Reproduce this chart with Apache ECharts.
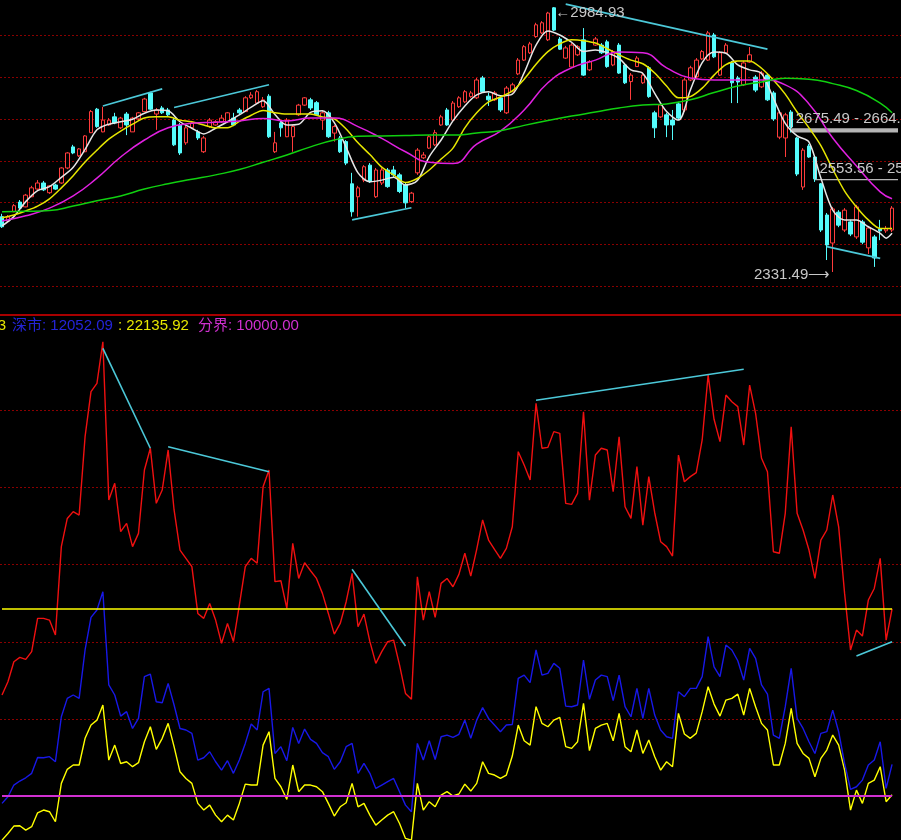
<!DOCTYPE html>
<html>
<head>
<meta charset="utf-8">
<title>K线 与 两市成交额</title>
<script src="https://cdn.jsdelivr.net/npm/echarts@6/dist/echarts.min.js"></script>
<style>
  html, body { margin: 0; padding: 0; background: #000; }
  #main { width: 901px; height: 840px; }
</style>
</head>
<body>
<div id="main"></div>
<script>
// 日K线 [开, 收, 低, 高]
const kline = [
  [2468,2443,2440,2475],[2457,2467,2455,2472],[2480,2495,2479,2499],[2504,2489,2487,2509],[2492,2521,2491,2524],
  [2517,2539,2516,2544],[2536,2551,2534,2558],[2551,2534,2531,2556],[2527,2544,2524,2546],[2546,2536,2534,2549],
  [2551,2588,2549,2590],[2588,2625,2585,2627],[2640,2625,2622,2645],[2618,2635,2615,2637],[2628,2667,2627,2669],
  [2675,2727,2674,2731],[2733,2690,2687,2736],[2677,2706,2676,2739],[2694,2706,2692,2711],[2714,2699,2696,2724],
  [2687,2711,2684,2714],[2721,2694,2669,2726],[2677,2711,2677,2714],[2709,2724,2706,2726],[2727,2758,2726,2761],
  [2773,2733,2731,2776],[2721,2731,2682,2736],[2736,2724,2721,2741],[2731,2719,2716,2736],[2706,2645,2642,2711],
  [2694,2625,2620,2699],[2650,2687,2645,2692],[2687,2699,2684,2704],[2677,2662,2657,2682],[2628,2662,2625,2667],
  [2690,2706,2687,2711],[2694,2702,2692,2706],[2702,2711,2699,2719],[2702,2724,2699,2726],[2711,2694,2691,2724],
  [2731,2724,2719,2736],[2727,2761,2726,2765],[2761,2768,2758,2775],[2748,2776,2746,2780],[2739,2756,2736,2763],
  [2765,2665,2662,2770],[2628,2650,2625,2677],[2699,2687,2665,2706],[2665,2706,2664,2711],[2665,2690,2628,2694],
  [2719,2743,2716,2746],[2743,2761,2741,2763],[2756,2736,2731,2761],[2749,2719,2716,2753],[2706,2724,2682,2729],
  [2724,2665,2662,2729],[2674,2690,2653,2694],[2662,2628,2625,2667],[2653,2600,2595,2657],[2549,2480,2468,2576],
  [2517,2539,2468,2544],[2558,2591,2553,2595],[2595,2554,2551,2600],[2517,2583,2514,2588],[2551,2583,2546,2588],
  [2583,2542,2539,2588],[2583,2571,2566,2593],[2571,2530,2526,2576],[2546,2502,2489,2551],[2505,2526,2502,2529],
  [2576,2632,2571,2637],[2613,2620,2610,2627],[2637,2665,2635,2669],[2645,2675,2642,2682],[2694,2714,2692,2719],
  [2731,2694,2692,2736],[2706,2748,2704,2753],[2739,2761,2736,2765],[2751,2776,2748,2780],[2764,2773,2761,2778],
  [2761,2805,2758,2810],[2810,2776,2773,2815],[2765,2756,2741,2774],[2756,2773,2753,2778],[2761,2731,2726,2765],
  [2724,2785,2721,2790],[2776,2793,2775,2798],[2820,2854,2817,2859],[2854,2887,2852,2891],[2872,2894,2869,2899],
  [2912,2941,2909,2946],[2921,2946,2918,2950],[2904,2970,2901,2973],[2983,2928,2926,2984.93],[2906,2881,2879,2911],
  [2859,2884,2857,2889],[2837,2891,2835,2896],[2867,2887,2864,2891],[2904,2817,2815,2933],[2830,2850,2827,2854],
  [2891,2906,2889,2911],[2891,2872,2869,2896],[2899,2838,2835,2904],[2842,2875,2839,2879],[2891,2822,2820,2896],
  [2842,2798,2795,2847],[2801,2817,2756,2822],[2838,2859,2837,2864],[2798,2817,2795,2822],[2835,2764,2761,2839],
  [2724,2687,2662,2729],[2714,2743,2711,2748],[2719,2694,2664,2724],[2706,2694,2657,2731],[2746,2711,2706,2751],
  [2731,2805,2726,2810],[2805,2835,2802,2840],[2813,2854,2810,2859],[2857,2875,2854,2879],[2854,2921,2852,2926],
  [2916,2862,2859,2921],[2817,2872,2815,2876],[2872,2891,2869,2896],[2847,2798,2748,2852],[2810,2800,2748,2815],
  [2793,2847,2790,2852],[2849,2867,2847,2886],[2812,2780,2775,2817],[2788,2822,2785,2827],[2817,2756,2753,2822],
  [2773,2709,2704,2778],[2664,2724,2659,2729],[2662,2719,2615,2724],[2726,2689,2675.49,2731],[2662,2573,2568,2664.6],
  [2541,2632,2534,2637],[2642,2615,2613,2647],[2615,2561,2553.56,2620],[2549,2435,2430,2551],[2472,2398,2361,2477],
  [2403,2487,2331.49,2492],[2479,2447,2442,2484],[2435,2484,2430,2489],[2455,2425,2420,2460],[2418,2492,2413,2497],
  [2455,2405,2400,2460],[2391,2440,2376,2445],[2418,2366,2344,2423],[2438,2433,2410,2460],[2433,2438,2428,2445],
  [2435,2489,2430,2494]
];

// 均线读数 [序号, 点位]
const ma5 = [[0,2445],[2,2468],[4,2505],[6,2532],[8,2542],[10,2565],[12,2590],[14,2634],[16,2682],[18,2696],
  [20,2702],[22,2708],[24,2723],[26,2731],[28,2729],[30,2702],[32,2686],[34,2672],[36,2686],[38,2702],
  [40,2719],[42,2738],[44,2754],[46,2720],[48,2694],[50,2696],[52,2725],[54,2729],[56,2700],[58,2639],
  [60,2576],[62,2554],[64,2558],[66,2565],[68,2546],[70,2557],[72,2616],[74,2657],[76,2704],[78,2741],
  [80,2768],[82,2776],[84,2766],[86,2770],[88,2823],[90,2891],[92,2926],[94,2916],[96,2898],[98,2875],
  [100,2879],[102,2872],[104,2858],[106,2830],[108,2821],[110,2772],[112,2727],[114,2706],[116,2780],[118,2848],
  [120,2874],[122,2871],[124,2842],[126,2830],[128,2821],[130,2760],[132,2698],[134,2667],[136,2652],[138,2563],
  [140,2484],[142,2460],[144,2460],[146,2443],[148,2427],[149,2415],[150,2427]];
const ma10 = [[0,2465],[2,2472],[4,2482],[6,2494],[8,2512],[10,2539],[12,2569],[14,2603],[16,2632],[18,2659],
  [20,2679],[22,2696],[24,2711],[26,2714],[28,2714],[30,2706],[32,2702],[34,2694],[36,2687],[38,2687],
  [40,2703],[42,2718],[44,2730],[46,2724],[48,2721],[50,2721],[52,2721],[54,2714],[56,2709],[58,2684],
  [60,2650],[62,2621],[64,2590],[66,2571],[68,2552],[70,2562],[72,2583],[74,2610],[76,2637],[78,2687],
  [80,2724],[82,2751],[84,2763],[86,2778],[88,2807],[90,2844],[92,2875],[94,2894],[96,2904],[98,2902],
  [100,2896],[102,2882],[104,2867],[106,2854],[108,2845],[110,2822],[112,2790],[114,2761],[116,2764],[118,2785],
  [120,2817],[122,2843],[124,2852],[126,2852],[128,2834],[130,2805],[132,2770],[134,2726],[136,2687],[138,2643],
  [140,2585],[142,2531],[144,2492],[146,2460],[148,2439],[150,2439]];
const ma20 = [[0,2457],[4,2470],[8,2489],[12,2519],[16,2563],[20,2615],[24,2657],[28,2687],[32,2698],[36,2701],
  [40,2704],[44,2710],[48,2704],[52,2711],[56,2711],[60,2690],[64,2661],[68,2628],[72,2602],[76,2599],
  [80,2647],[84,2679],[88,2731],[92,2798],[96,2835],[100,2854],[104,2874],[108,2872],[112,2835],[116,2810],
  [120,2805],[124,2805],[128,2805],[132,2793],[136,2746],[140,2662],[144,2593],[148,2529],[150,2512]];
const ma60 = [[0,2480],[4,2481],[8,2483],[12,2494],[16,2507],[20,2519],[24,2536],[28,2549],[32,2560],[36,2571],
  [40,2584],[44,2602],[48,2620],[52,2640],[56,2657],[60,2666],[64,2667],[68,2668],[72,2669],[76,2669],
  [80,2674],[84,2680],[88,2693],[92,2705],[96,2716],[100,2726],[104,2736],[108,2743],[112,2746],[116,2756],
  [120,2774],[124,2790],[128,2800],[132,2809],[136,2807],[140,2796],[144,2779],[148,2748],[150,2724]];

// 成交额(亿)
const totalAmount = [16550,17410,18710,18990,18860,19360,21520,21520,21410,20440,
  26170,28000,28440,28220,33300,36220,36760,39460,29190,30280,
  27140,27680,26170,27030,31140,32550,28980,29840,32440,28550,
  25950,25410,24870,21840,21520,22490,21410,19900,21190,20010,
  22380,24870,25410,25090,30060,31140,23900,23960,22170,26380,
  24110,25130,24610,24110,23140,21840,20500,21190,22600,24440,
  20980,21800,20010,18600,19360,20010,20110,18490,16650,16270,
  24220,21410,23250,21580,23790,24110,23570,24370,25740,24260,
  25990,27900,26600,25990,25410,26060,27460,32330,31460,30490,
  35460,32550,32610,33630,33520,28980,28910,29630,34920,29190,
  32110,32550,32440,29730,33300,28760,28000,31360,27570,30710,
  28370,26490,26170,25560,32110,30380,30710,30970,33090,37300,
  34430,32980,36000,35570,35250,32760,36650,34820,31900,31030,
  25840,25740,28330,33950,28330,27250,25950,24110,26600,27250,
  29520,27460,23140,19470,20760,20370,22710,23460,25410,20110,22135.92];
const szAmount = [9520,9950,10710,10970,11180,11470,12500,12480,12550,12220,
  15140,16330,16550,16330,19470,21580,22060,23250,17200,16550,
  15180,15470,14380,15030,17740,17910,16110,16050,17300,15900,
  14380,14280,14060,12330,12480,12870,12220,11680,12290,11470,
  12330,13410,14670,14280,16760,16980,12760,13200,12290,14450,
  13410,14340,13670,13410,12810,12550,11730,12220,13200,13410,
  11470,12110,11470,10490,10710,10930,11140,10280,9410,8980,
  13410,12330,13580,12370,13840,13950,13800,14000,14920,13740,
  14920,15730,15030,14600,14170,14600,14640,17630,17840,17350,
  19470,17840,17950,18600,18280,15830,15790,15900,18820,16270,
  17520,17840,17740,16180,17840,15790,15140,16980,15030,16980,
  15250,14280,13840,13740,16760,16440,16980,16980,17740,20330,
  18380,17740,19790,19470,18770,17520,19570,18920,17200,16610,
  13950,13740,15790,18280,15030,14380,13520,12760,14060,14170,
  15570,14170,12110,10430,10600,11030,12010,12330,13520,10490,12052.09];
const shAmount = [7140,7570,8050,8070,7790,8010,8910,9090,8980,8330,
  10820,11730,12010,12010,13740,14600,14920,15900,12330,13300,
  12110,12220,11900,12160,13520,14490,13020,13740,14710,13200,
  11570,11140,10820,9520,9090,9410,8760,8330,8760,8440,
  9520,10770,10710,10710,13300,14170,11140,10600,9780,12010,
  10280,10710,10710,10600,10280,9520,8700,9300,9560,10820,
  9300,9520,8760,8110,8440,8760,8980,8220,7250,7140,
  10820,9090,9630,9300,10060,10280,10000,10130,10770,10320,
  10820,12220,11470,11360,11140,11360,12590,14600,13580,13300,
  15790,14710,14490,14920,15100,13200,13090,13520,16010,12940,
  14380,14600,14710,13580,15360,13200,12870,14280,12760,13630,
  12550,11680,12220,11900,15360,14020,13740,14060,15470,17090,
  15960,15180,16220,16330,16610,15250,16980,15790,14710,14280,
  12010,12010,13410,15680,13410,12760,12440,11250,12440,12980,
  13950,13300,11680,9090,10380,9520,10820,11030,11900,9630,10083.83];
const divide = 10000;

// 画线: 趋势线 [[起点序号, 值], [终点序号, 值]]
const priceTrends = [[[17,2741],[27,2783]], [[29,2737],[45,2793]], [[59,2460],[69,2490]],
  [[95,2992],[129,2881]], [[139,2394],[148,2365]]];
const amountTrends = [[[17,39030],[25,32550]], [[28,32650],[45,31030]], [[59,24700],[68,19730]],
  [[90,35660],[125,37670]], [[144,19080],[150,20010]]];
// 缺口 [起点序号, 上沿, 下沿, 标注]
const gaps = [[133, 2686, 2675.5, '2675.49 - 2664.'], [137, 2561, 2558, '2553.56 - 25']];

const FONT = '"Liberation Sans", "Noto Sans CJK SC", sans-serif';
const cats = kline.map((d, i) => i);
cats.push(kline.length);
const last = totalAmount.length - 1;

let hiIdx = 0, loIdx = 0;
kline.forEach((d, i) => {
  if (d[3] > kline[hiIdx][3]) hiIdx = i;
  if (d[2] < kline[loIdx][2]) loIdx = i;
});

const dotted = { color: '#8a0000', width: 1, type: [2, 2] };
const trendStyle = { color: '#4cc8d8', width: 1.6, type: 'solid' };

function segs(list) {
  return list.map(s => [{ coord: s[0] }, { coord: s[1] }]);
}
function maLine(name, data, color, smooth) {
  return {
    name: name, type: 'line', xAxisIndex: 0, yAxisIndex: 0, data: data,
    symbol: 'none', smooth: smooth, silent: true,
    lineStyle: { color: color, width: 1.5 }
  };
}
function amountLine(name, data, color, extra) {
  return Object.assign({
    name: name, type: 'line', xAxisIndex: 1, yAxisIndex: 1, data: data,
    symbol: 'none', silent: true, lineStyle: { color: color, width: 1.4 }
  }, extra || {});
}

const chart = echarts.init(document.getElementById('main'));

const option = {
  backgroundColor: '#000',
  animation: false,
  grid: [
    { left: 2, right: 3, top: 0, height: 328.6 },      // K线
    { left: 2, right: 3, top: 333.4, height: 506.6 },  // 成交额
    { left: 0, right: 0, top: 0, height: 328.6 },      // K线网格
    { left: 0, right: 0, top: 333.4, height: 462.6 }   // 成交额网格
  ],
  xAxis: [
    { type: 'category', gridIndex: 0, data: cats, boundaryGap: false, show: false },
    { type: 'category', gridIndex: 1, data: cats, boundaryGap: false, show: false },
    { type: 'value', gridIndex: 2, min: 0, max: 1, show: false },
    { type: 'value', gridIndex: 3, min: 0, max: 1, show: false }
  ],
  yAxis: [
    { type: 'value', gridIndex: 0, min: 2191.9, max: 3002.2, show: false },
    { type: 'value', gridIndex: 1, min: 7146.6, max: 40000, show: false },
    { type: 'value', gridIndex: 2, min: 0, max: 7.833, interval: 1,
      axisLine: { show: false }, axisTick: { show: false }, axisLabel: { show: false },
      splitLine: { show: true, showMinLine: false, showMaxLine: false, lineStyle: dotted } },
    { type: 'value', gridIndex: 3, min: 10000, max: 40000, interval: 5000,
      axisLine: { show: false }, axisTick: { show: false }, axisLabel: { show: false },
      splitLine: { show: true, showMinLine: false, showMaxLine: false, lineStyle: dotted } }
  ],
  series: [
    {
      name: 'K线', type: 'candlestick', xAxisIndex: 0, yAxisIndex: 0,
      data: kline, barWidth: 4, silent: true,
      itemStyle: { color: '#000', color0: '#54fcfc', borderColor: '#ff3c3c', borderColor0: '#54fcfc', borderWidth: 1 },
      markLine: {
        silent: true, symbol: 'none', label: { show: false },
        lineStyle: trendStyle,
        data: segs(priceTrends).concat(gaps.map(g => [
          { coord: [g[0], g[1] + (g[0] === 133 ? 38 : 40)], lineStyle: { color: '#d8d8d8', width: 1 } },
          { coord: [g[0], g[1]] }
        ]))
      },
      markArea: {
        silent: true,
        itemStyle: { color: '#b4b4b4' },
        data: gaps.map(g => [{ coord: [g[0], g[1]] }, { coord: [cats.length - 1, g[2]] }])
      },
      markPoint: {
        silent: true, symbol: 'circle', symbolSize: 1,
        itemStyle: { color: 'rgba(0,0,0,0)' },
        label: { show: true, color: '#c8c8c8', fontSize: 15, fontFamily: FONT },
        data: [
          { coord: [hiIdx, kline[hiIdx][3]],
            label: { position: 'right', distance: 1, offset: [0, 6], formatter: '\u2190' + kline[hiIdx][3].toFixed(2) } },
          { coord: [loIdx, kline[loIdx][2]],
            label: { position: 'left', distance: 2, offset: [0, 3], formatter: kline[loIdx][2].toFixed(2) + '\u27f6' } }
        ].concat(gaps.map(g => ({
          coord: [g[0], g[1]],
          label: { position: 'right', distance: 4, offset: [0, g[0] === 133 ? -9 : -10], formatter: g[3] }
        })))
      }
    },
    maLine('MA5', ma5, '#e6e6e6', 0.3),
    maLine('MA10', ma10, '#e6e600', 0.3),
    maLine('MA20', ma20, '#e020e0', 0.5),
    maLine('MA60', ma60, '#10d010', 0.5),
    amountLine('沪市', shAmount, '#ffff00'),
    amountLine('深市', szAmount, '#1818e8', {
      markLine: {
        silent: true, symbol: 'none', label: { show: false },
        data: [[{ coord: [0, divide], lineStyle: { color: '#d030d0', width: 2, type: 'solid' } },
                { coord: [last, divide] }]]
      }
    }),
    amountLine('两市', totalAmount, '#f01010', {
      markLine: {
        silent: true, symbol: 'none', label: { show: false },
        lineStyle: trendStyle,
        data: [[{ coord: [0, totalAmount[last]], lineStyle: { color: '#ffff00', width: 1.6, type: 'solid' } },
                { coord: [last, totalAmount[last]] }]].concat(segs(amountTrends))
      }
    })
  ],
  graphic: [
    { type: 'line', silent: true, shape: { x1: 0, y1: 315, x2: 901, y2: 315 },
      style: { stroke: '#a80000', lineWidth: 2 } },
    { type: 'text', silent: true, x: 6, y: 326,
      style: { text: '沪市: ' + shAmount[last].toFixed(2), fill: '#e6e600', font: '15px ' + FONT,
               align: 'right', textAlign: 'right', verticalAlign: 'middle', textVerticalAlign: 'middle' } },
    { type: 'text', silent: true, x: 12, y: 326,
      style: { text: '深市: ' + szAmount[last].toFixed(2), fill: '#2424d8', font: '15px ' + FONT,
               verticalAlign: 'middle', textVerticalAlign: 'middle' } },
    { type: 'text', silent: true, x: 118, y: 326,
      style: { text: ': ' + totalAmount[last].toFixed(2), fill: '#e6e600', font: '15px ' + FONT,
               verticalAlign: 'middle', textVerticalAlign: 'middle' } },
    { type: 'text', silent: true, x: 198, y: 326,
      style: { text: '分界: ' + divide.toFixed(2), fill: '#d030d0', font: '15px ' + FONT,
               verticalAlign: 'middle', textVerticalAlign: 'middle' } }
  ]
};

chart.setOption(option);
</script>
</body>
</html>
